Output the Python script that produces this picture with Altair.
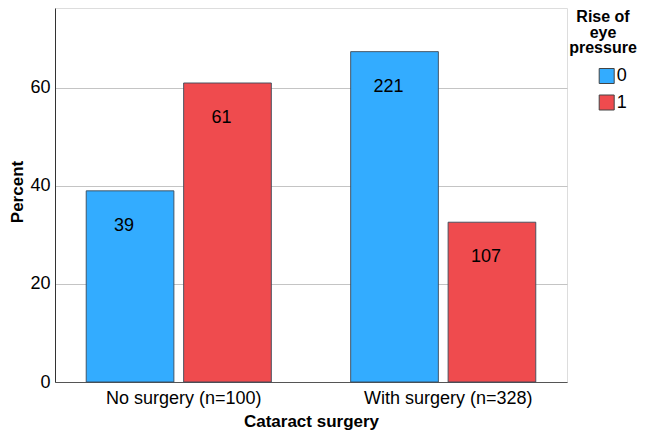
import altair as alt
import pandas as pd

surgery = ["No surgery (n=100)", "No surgery (n=100)", "With surgery (n=328)", "With surgery (n=328)"]
pressure = ["0", "1", "0", "1"]
counts = [39, 61, 221, 107]
percents = [39.0, 61.0, 67.4, 32.6]
y_ticks = [0, 20, 40, 60]
legend_title = "Rise of\neye\npressure"

df = pd.DataFrame({"surgery": surgery, "pressure": pressure, "count": counts, "pct": percents})

FONT = "Liberation Sans"

x_enc = alt.X(
    "surgery:N",
    title="Cataract surgery",
    scale=alt.Scale(paddingInner=0.30, paddingOuter=0.118),
    axis=alt.Axis(
        labelAngle=0, labelFontSize=18, labelColor="black", labelPadding=7, labelOffset=5,
        ticks=False, domainColor="#555555", domainWidth=1,
        titleFontSize=17, titleFontWeight="bold", titleColor="black",
        titleBaseline="alphabetic", titleY=44,
    ),
)
xoff = alt.XOffset("pressure:N", scale=alt.Scale(paddingInner=0.1, paddingOuter=0))
y_enc = alt.Y(
    "pct:Q",
    title="Percent",
    scale=alt.Scale(domain=[0, 76.3], nice=False),
    axis=alt.Axis(
        values=y_ticks, labelFontSize=18, labelColor="black", labelPadding=5, ticks=False,
        grid=True, gridColor="#c4c4c4", gridWidth=1.2,
        domainColor="#333333", domainWidth=1,
        titleFontSize=17, titleFontWeight="bold", titleColor="black",
        titleBaseline="alphabetic", titleX=-33, titleY=183.5, titleAngle=-90,
    ),
)

bars = alt.Chart(df).mark_bar(stroke="#3b4a5a", strokeWidth=1, strokeOpacity=0.9).encode(
    x=x_enc,
    xOffset=xoff,
    y=y_enc,
    fill=alt.Fill(
        "pressure:N",
        scale=alt.Scale(domain=["0", "1"], range=["#33acff", "#ef4b4e"]),
        legend=alt.Legend(
            title=None, orient="none", legendX=542.7, legendY=59,
            symbolType="square", symbolSize=225, symbolStrokeColor="#444444",
            symbolStrokeWidth=1, symbolOpacity=1, labelFontSize=18, labelColor="black",
            labelOffset=1, rowPadding=6.5,
        ),
    ),
)

labels = alt.Chart(df).mark_text(
    fontSize=18, color="black", baseline="middle", align="center", dy=35, dx=-6, font=FONT
).encode(
    x=alt.X("surgery:N"),
    xOffset=alt.XOffset("pressure:N"),
    y=alt.Y("pct:Q"),
    text=alt.Text("count:Q"),
)

title_df = pd.DataFrame({"t": [legend_title]})
leg_title = alt.Chart(title_df).mark_text(
    fontSize=16, fontWeight="bold", color="black", align="center", baseline="alphabetic",
    lineBreak="\n", lineHeight=15.5, font=FONT
).encode(
    x=alt.value(548), y=alt.value(14), text="t:N"
)

chart = alt.layer(bars, labels, leg_title).properties(
    width=512, height=374,
    autosize=alt.AutoSizeParams(type="none"),
    padding={"left": 47, "top": 0, "right": 71, "bottom": 48},
).configure_view(stroke=None).configure(font=FONT)

chart.save("out.html", embed_options={"renderer": "svg", "actions": False})
